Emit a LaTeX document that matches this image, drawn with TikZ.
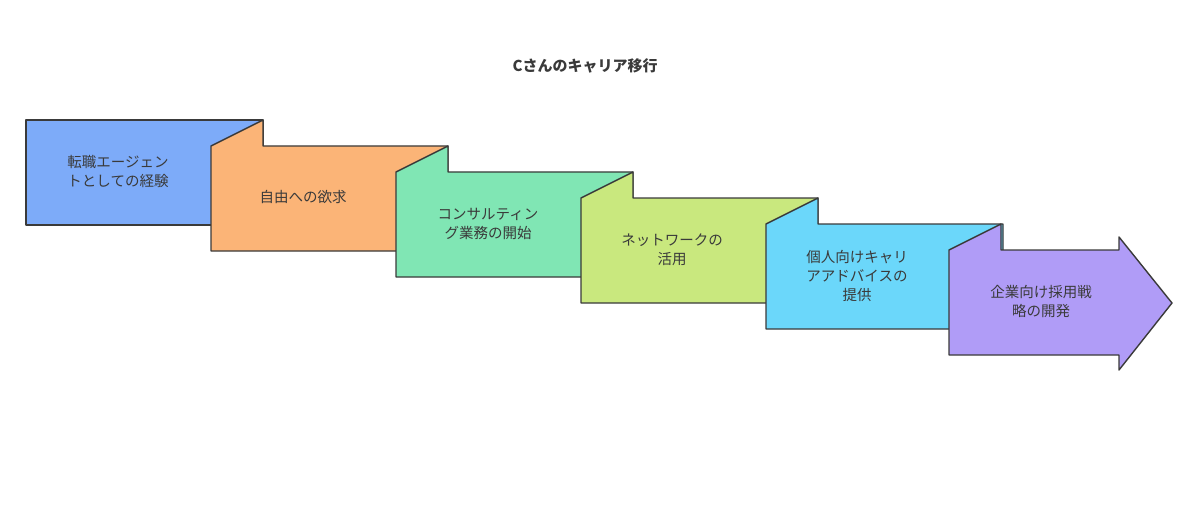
\documentclass[tikz,border=0pt]{standalone}
\usepackage{fontspec}
\setmainfont{Noto Sans CJK JP}
\definecolor{ink}{HTML}{3A3A3A}
\definecolor{stepA}{HTML}{7DABF9}
\definecolor{stepB}{HTML}{FBB477}
\definecolor{stepC}{HTML}{80E6B4}
\definecolor{stepD}{HTML}{C9E87E}
\definecolor{stepE}{HTML}{6BD7FA}
\definecolor{stepF}{HTML}{B09CF7}
\tikzset{
  stage/.style={draw=ink, line width=1.4pt, line join=round},
  stagetext/.style={text=ink, font=\fontsize{14.5}{19}\selectfont, align=center}
}
\begin{document}
\begin{tikzpicture}[x=1pt,y=-1pt]
        \useasboundingbox (0,0) rectangle (1200,516);
        \node[text=ink, font=\bfseries\fontsize{15}{18}\selectfont] (title) at (585,66) {Cさんのキャリア移行};
        % first step, plain box
        \filldraw[stage, fill=stepA](26,120) rectangle (263,225);
        % next steps, each with a flap over the one before
        \foreach \k/\col in {1/stepB,2/stepC,3/stepD,4/stepE}{
            \filldraw[stage, fill=\col](26+185*\k,146+26*\k-26)--(78+185*\k,120+26*\k-26)
                --(78+185*\k,146+26*\k-26)--(263+185*\k,146+26*\k-26)
                --(263+185*\k,251+26*\k-26)--(26+185*\k,251+26*\k-26)--cycle;
        }
        % last step, arrow
        \filldraw[stage, fill=stepF](949,250)--(1001,224)--(1001,250)--(1119,250)--(1119,237)
            --(1172,303)--(1119,370)--(1119,355)--(949,355)--cycle;
        \node[stagetext] (s1) at (118,172) {転職エージェン\\トとしての経験};
        \node[stagetext] (s2) at (303,197) {自由への欲求};
        \node[stagetext] (s3) at (488,224) {コンサルティン\\グ業務の開始};
        \node[stagetext] (s4) at (672,250) {ネットワークの\\活用};
        \node[stagetext] (s5) at (857,276) {個人向けキャリ\\アアドバイスの\\提供};
        \node[stagetext] (s6) at (1041,302) {企業向け採用戦\\略の開発};
\end{tikzpicture}
\end{document}
